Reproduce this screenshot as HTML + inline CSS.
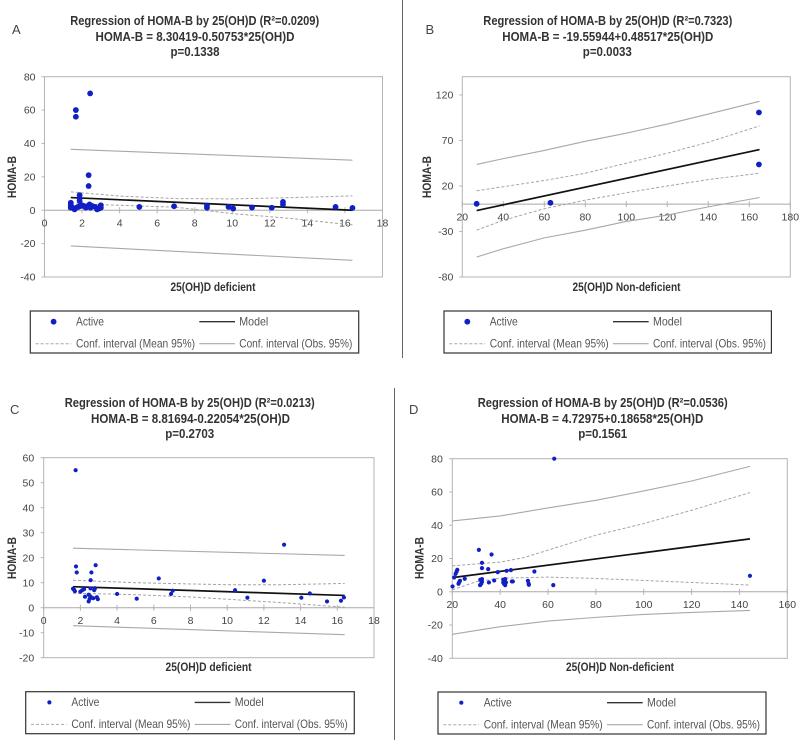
<!DOCTYPE html>
<html lang="en">
<head>
<meta charset="utf-8">
<title>Regression of HOMA-B by 25(OH)D</title>
<style>
html,body{margin:0;padding:0;background:#fff;width:800px;height:740px;overflow:hidden}
svg{display:block;filter:blur(.3px)}
text{font-family:"Liberation Sans",sans-serif}
.title{font-size:13px;font-weight:bold;fill:#333;text-anchor:middle}
.axt{font-size:11.5px;font-weight:bold;fill:#333;text-anchor:middle}
.letter{font-size:13px;fill:#444}
.leg{font-size:12px;fill:#555}
.tick{font-size:10.5px;fill:#444}
</style>
</head>
<body>
<svg id="root" xmlns="http://www.w3.org/2000/svg" width="800" height="740" viewBox="0 0 800 740">
<rect width="800" height="740" fill="#fff"/>
<line x1="402.5" y1="0" x2="402.5" y2="358" stroke="#666" stroke-width="1"/>
<line x1="394.5" y1="388" x2="394.5" y2="740" stroke="#666" stroke-width="1"/>

<g id="panel-a">
<text class="letter" x="12" y="34">A</text>
<text class="title" x="194.7" y="25" textLength="249" lengthAdjust="spacingAndGlyphs">Regression of HOMA-B by 25(OH)D (R²=0.0209)</text>
<text class="title" x="195" y="41" textLength="199" lengthAdjust="spacingAndGlyphs">HOMA-B = 8.30419-0.50753*25(OH)D</text>
<text class="title" x="195" y="56" textLength="49" lengthAdjust="spacingAndGlyphs">p=0.1338</text>
<text class="axt" x="213" y="291" textLength="85" lengthAdjust="spacingAndGlyphs">25(OH)D deficient</text>
<text class="axt" transform="translate(16,177) rotate(-90)" textLength="42" lengthAdjust="spacingAndGlyphs">HOMA-B</text>
<g transform="translate(30.3,311)">
<rect x="0" y="0" width="328.4" height="42" fill="#fff" stroke="#333" stroke-width="1.2"/>
<circle cx="23.3" cy="10.7" r="2.9" fill="#1020c4"/>
<text class="leg" x="45.7" y="14.5" textLength="28" lengthAdjust="spacingAndGlyphs">Active</text>
<line x1="169" y1="10.7" x2="204.7" y2="10.7" stroke="#333" stroke-width="1.4"/>
<text class="leg" x="209" y="14.5" textLength="29" lengthAdjust="spacingAndGlyphs">Model</text>
<line x1="5.3" y1="32.7" x2="41" y2="32.7" stroke="#a8a8a8" stroke-width="1" stroke-dasharray="3 2"/>
<text class="leg" x="45.7" y="36.5" textLength="119" lengthAdjust="spacingAndGlyphs">Conf. interval (Mean 95%)</text>
<line x1="169" y1="32.7" x2="204.7" y2="32.7" stroke="#a8a8a8" stroke-width="1.1"/>
<text class="leg" x="209" y="36.5" textLength="113" lengthAdjust="spacingAndGlyphs">Conf. interval (Obs. 95%)</text>
</g>
</g>

<g id="panel-b">
<text class="letter" x="425.5" y="34">B</text>
<text class="title" x="607.8" y="25" textLength="249" lengthAdjust="spacingAndGlyphs">Regression of HOMA-B by 25(OH)D (R²=0.7323)</text>
<text class="title" x="607.8" y="41" textLength="211" lengthAdjust="spacingAndGlyphs">HOMA-B = -19.55944+0.48517*25(OH)D</text>
<text class="title" x="607.3" y="56" textLength="49" lengthAdjust="spacingAndGlyphs">p=0.0033</text>
<text class="axt" x="626.5" y="291" textLength="108" lengthAdjust="spacingAndGlyphs">25(OH)D Non-deficient</text>
<text class="axt" transform="translate(431,177) rotate(-90)" textLength="42" lengthAdjust="spacingAndGlyphs">HOMA-B</text>
<g transform="translate(444,311)">
<rect x="0" y="0" width="327.4" height="42" fill="#fff" stroke="#333" stroke-width="1.2"/>
<circle cx="23.3" cy="10.7" r="2.9" fill="#1020c4"/>
<text class="leg" x="45.7" y="14.5" textLength="28" lengthAdjust="spacingAndGlyphs">Active</text>
<line x1="169" y1="10.7" x2="204.7" y2="10.7" stroke="#333" stroke-width="1.4"/>
<text class="leg" x="209" y="14.5" textLength="29" lengthAdjust="spacingAndGlyphs">Model</text>
<line x1="5.3" y1="32.7" x2="41" y2="32.7" stroke="#a8a8a8" stroke-width="1" stroke-dasharray="3 2"/>
<text class="leg" x="45.7" y="36.5" textLength="119" lengthAdjust="spacingAndGlyphs">Conf. interval (Mean 95%)</text>
<line x1="169" y1="32.7" x2="204.7" y2="32.7" stroke="#a8a8a8" stroke-width="1.1"/>
<text class="leg" x="209" y="36.5" textLength="113" lengthAdjust="spacingAndGlyphs">Conf. interval (Obs. 95%)</text>
</g>
</g>

<g id="panel-c">
<text class="letter" x="10" y="414">C</text>
<text class="title" x="189.7" y="407" textLength="250" lengthAdjust="spacingAndGlyphs">Regression of HOMA-B by 25(OH)D (R²=0.0213)</text>
<text class="title" x="190.5" y="423" textLength="199" lengthAdjust="spacingAndGlyphs">HOMA-B = 8.81694-0.22054*25(OH)D</text>
<text class="title" x="189.7" y="438" textLength="49" lengthAdjust="spacingAndGlyphs">p=0.2703</text>
<text class="axt" x="208.5" y="671" textLength="86" lengthAdjust="spacingAndGlyphs">25(OH)D deficient</text>
<text class="axt" transform="translate(16,558) rotate(-90)" textLength="42" lengthAdjust="spacingAndGlyphs">HOMA-B</text>
<g transform="translate(25.7,691.7)">
<rect x="0" y="0" width="328.6" height="42" fill="#fff" stroke="#333" stroke-width="1.2"/>
<circle cx="23.7" cy="10.7" r="2.1" fill="#1020c4"/>
<text class="leg" x="45.7" y="14.5" textLength="28" lengthAdjust="spacingAndGlyphs">Active</text>
<line x1="169" y1="10.7" x2="204.7" y2="10.7" stroke="#333" stroke-width="1.4"/>
<text class="leg" x="209" y="14.5" textLength="29" lengthAdjust="spacingAndGlyphs">Model</text>
<line x1="5.3" y1="32.7" x2="41" y2="32.7" stroke="#a8a8a8" stroke-width="1" stroke-dasharray="3 2"/>
<text class="leg" x="45.7" y="36.5" textLength="119" lengthAdjust="spacingAndGlyphs">Conf. interval (Mean 95%)</text>
<line x1="169" y1="32.7" x2="204.7" y2="32.7" stroke="#a8a8a8" stroke-width="1.1"/>
<text class="leg" x="209" y="36.5" textLength="113" lengthAdjust="spacingAndGlyphs">Conf. interval (Obs. 95%)</text>
</g>
</g>

<g id="panel-d">
<text class="letter" x="409" y="414">D</text>
<text class="title" x="602.7" y="407" textLength="250" lengthAdjust="spacingAndGlyphs">Regression of HOMA-B by 25(OH)D (R²=0.0536)</text>
<text class="title" x="602.3" y="423" textLength="202" lengthAdjust="spacingAndGlyphs">HOMA-B = 4.72975+0.18658*25(OH)D</text>
<text class="title" x="602.7" y="438" textLength="49" lengthAdjust="spacingAndGlyphs">p=0.1561</text>
<text class="axt" x="620" y="671" textLength="108" lengthAdjust="spacingAndGlyphs">25(OH)D Non-deficient</text>
<text class="axt" transform="translate(423.7,558) rotate(-90)" textLength="42" lengthAdjust="spacingAndGlyphs">HOMA-B</text>
<g transform="translate(438,692)">
<rect x="0" y="0" width="328" height="42" fill="#fff" stroke="#333" stroke-width="1.2"/>
<circle cx="23.3" cy="10.7" r="2.1" fill="#1020c4"/>
<text class="leg" x="45.7" y="14.5" textLength="28" lengthAdjust="spacingAndGlyphs">Active</text>
<line x1="169" y1="10.7" x2="204.7" y2="10.7" stroke="#333" stroke-width="1.4"/>
<text class="leg" x="209" y="14.5" textLength="29" lengthAdjust="spacingAndGlyphs">Model</text>
<line x1="5.3" y1="32.7" x2="41" y2="32.7" stroke="#a8a8a8" stroke-width="1" stroke-dasharray="3 2"/>
<text class="leg" x="45.7" y="36.5" textLength="119" lengthAdjust="spacingAndGlyphs">Conf. interval (Mean 95%)</text>
<line x1="169" y1="32.7" x2="204.7" y2="32.7" stroke="#a8a8a8" stroke-width="1.1"/>
<text class="leg" x="209" y="36.5" textLength="113" lengthAdjust="spacingAndGlyphs">Conf. interval (Obs. 95%)</text>
</g>
</g>
</svg>

<script>
/* Panel A data */
const aXTicks = [0,2,4,6,8,10,12,14,16,18];
const aYTicks = [-40,-20,0,20,40,60,80];
const aPointX = [2.43,1.67,1.67,2.35,2.35,1.87,1.87,1.87,1.4,1.4,1.4,1.4,1.5,1.6,1.7,1.8,1.9,2.0,2.1,2.2,2.3,2.4,2.45,2.55,2.7,2.8,2.9,3.0,3.0,5.05,6.9,8.65,8.65,9.8,10.05,11.05,12.1,12.7,12.7,15.5,16.4];
const aPointY = [70,60,56,21,14.5,9,7,5.5,4.5,3,2,1.5,1.5,0.5,1.5,2,2.5,3,2.5,1.5,2.5,3.5,1.5,2.5,2,0.5,1,3,1.5,2,2.4,2.8,1.5,2,1,1.6,1.5,5,3.5,2,1.4];
const aModelX = [1.4,16.4];
const aModelY = [7.6,0];
const aMeanX = [1.4,4,7,10,13,16.4];
const aMeanUpper = [11,8.5,7,6.8,7.5,8.6];
const aMeanLower = [3.8,3,1.8,-2,-4.8,-8.8];
const aObsX = [1.4,16.4];
const aObsUpper = [36.5,30];
const aObsLower = [-21.4,-30];

/* Panel B data */
const bXTicks = [20,40,60,80,100,120,140,160,180];
const bYTicks = [-80,-30,20,70,120];
const bPointX = [27,63,164.7,164.7];
const bPointY = [0.4,1.5,100.7,43.6];
const bModelX = [27,165];
const bModelY = [-7,60];
const bMeanX = [27,60,80,100,120,140,165];
const bMeanUpper = [14.7,26,34,45,56,68,86];
const bLowerX = [27,40,60,80,100,120,140,165];
const bMeanLower = [-28.6,-17.6,-5,4.4,12.5,20,27,34];
const bObsX = [27,40,60,80,100,120,140,165];
const bObsUpper = [43.6,50,59,69,78,88,99,113];
const bObsLower = [-58,-49,-37,-28.6,-19,-12,-3,7.3];

/* Panel C data */
const cXTicks = [0,2,4,6,8,10,12,14,16,18];
const cYTicks = [-20,-10,0,10,20,30,40,50,60];
const cPointX = [1.74,13.1,1.76,1.8,2.83,2.6,2.56,6.27,12,10.43,7.03,6.94,4,5.07,11.1,14.04,14.5,15.44,16.2,16.36,1.6,1.65,1.7,2.0,2.1,2.2,2.25,2.45,2.45,2.5,2.55,2.55,2.7,2.75,2.8,2.9,2.95];
const cPointY = [55,25.2,16.5,14.1,17,14.1,11,11.7,10.8,7,6.8,5.5,5.5,3.6,4,4,5.7,2.5,2.8,4.1,7.6,7.2,6.6,6.4,7,7.4,4.4,5.2,2.5,3.5,4.5,7.7,3.8,7,7.8,4.2,3.4];
const cModelX = [1.6,16.4];
const cModelY = [8.4,4.9];
const cMeanX = [1.6,5,8,10,13,16.4];
const cMeanUpper = [11,10,9.5,9.2,9.2,9.7];
const cMeanLower = [5.8,5.2,4.3,3.4,2,0.2];
const cObsX = [1.6,16.4];
const cObsUpper = [23.8,20.9];
const cObsLower = [-7.2,-10.8];

/* Panel D data */
const dXTicks = [20,40,60,80,100,120,140,160];
const dYTicks = [-40,-20,0,20,40,60,80];
const dPointX = [62.6,144.4,31.1,36.4,32.4,32.4,35,42.7,44.5,39,54.3,22.1,21.8,21.4,20.8,20.1,22.6,23.2,22.9,25.2,31.7,32.4,32.4,32.1,31.6,35.3,37.5,41.3,42.1,41.3,41.6,42.1,42.4,44.9,45.3,51.6,51.9,52,62.2];
const dPointY = [80,9.6,25.2,22.4,17.4,14.2,13.6,12.6,13,11.8,12.2,13.2,12.2,10.8,8.6,3.2,4.8,6.6,5.8,7.8,7.2,7.6,6,4.8,4,5.6,6.8,7.2,7.6,5.6,4.8,4,5.6,6.2,6.2,6.6,4.8,4.2,4];
const dModelX = [20,144.4];
const dModelY = [8.5,31.8];
const dMeanUpperX = [20,40,50,60,80,100,120,144.4];
const dMeanUpper = [15.6,17.8,20.6,25,34,41,49,59.6];
const dMeanLowerX = [20,30,40,60,80,100,120,144.4];
const dMeanLower = [1.2,6,8.2,8.8,8,6.8,5.6,4];
const dObsX = [20,40,60,80,100,120,144.4];
const dObsUpper = [42.6,45.6,50.4,55,60.6,66.6,75.4];
const dObsLower = [-25.6,-21,-17.6,-15.4,-13.6,-12.4,-11.2];

const SVG_NS = 'http://www.w3.org/2000/svg';

function make(parent, tag, props, name) {
  const el = document.createElementNS(SVG_NS, tag);
  Object.keys(props).forEach(function (k) { el.setAttribute(k, props[k]); });
  
  
  parent.appendChild(el);
  return el;
}

function drawPanel(p) {
  const root = document.getElementById('panel-' + p.id);
  const xMin = p.xTicks[0], xMax = p.xTicks[p.xTicks.length - 1];
  const yMin = p.yTicks[0];
  const sx = function (v) { return p.left + (v - xMin) / (xMax - xMin) * (p.right - p.left); };
  const sy = function (v) { return p.bottom - (v - yMin) / (p.yMax - yMin) * (p.bottom - p.top); };
  const axisColor = '#b4b4b4';

  make(root, 'rect', {x: p.left, y: p.top, width: p.right - p.left, height: p.bottom - p.top, fill: 'none', stroke: axisColor, 'stroke-width': 1}, 'plot-area-' + p.id);
  make(root, 'line', {x1: p.left, x2: p.right, y1: sy(0), y2: sy(0), stroke: '#a8a8a8', 'stroke-width': 1}, 'x-axis-' + p.id);

  p.yTicks.forEach(function (t) {
    make(root, 'line', {x1: p.left - 3, x2: p.left, y1: sy(t), y2: sy(t), stroke: axisColor, 'stroke-width': 1}, 'y-tick-' + p.id);
    const lab = make(root, 'text', {class: 'tick', x: p.left - p.labelGap, y: sy(t) + 3.6, 'text-anchor': 'end'}, 'y-tick-label-' + p.id);
    lab.textContent = t;
  });
  p.xTicks.forEach(function (t) {
    make(root, 'line', {x1: sx(t), x2: sx(t), y1: sy(0) - 3, y2: sy(0) + 3, stroke: axisColor, 'stroke-width': 1}, 'x-tick-' + p.id);
    const lab = make(root, 'text', {class: 'tick', x: sx(t), y: sy(0) + 16.2, 'text-anchor': 'middle'}, 'x-tick-label-' + p.id);
    lab.textContent = t;
  });

  function series(xs, ys, style, name) {
    const pts = xs.map(function (x, i) { return sx(x).toFixed(2) + ',' + sy(ys[i]).toFixed(2); }).join(' ');
    const props = Object.assign({points: pts, fill: 'none'}, style);
    make(root, 'polyline', props, name + '-' + p.id);
  }
  const obs = {stroke: '#a8a8a8', 'stroke-width': 1.1};
  const mean = {stroke: '#a4a4a4', 'stroke-width': 1, 'stroke-dasharray': '3 2'};
  series(p.obsX, p.obsUpper, obs, 'obs-ci-upper');
  series(p.obsX, p.obsLower, obs, 'obs-ci-lower');
  series(p.meanUpperX, p.meanUpper, mean, 'mean-ci-upper');
  series(p.meanLowerX, p.meanLower, mean, 'mean-ci-lower');
  series(p.modelX, p.modelY, {stroke: '#111', 'stroke-width': 1.7}, 'model-line');

  p.pointX.forEach(function (x, i) {
    make(root, 'circle', {cx: sx(x).toFixed(2), cy: sy(p.pointY[i]).toFixed(2), r: p.radius, fill: '#1020c4'}, 'active-point-' + p.id);
  });
}

drawPanel({id: 'a', left: 44.5, right: 382.5, top: 76.7, bottom: 277, yMax: 80, labelGap: 9, radius: 2.9,
  xTicks: aXTicks, yTicks: aYTicks, pointX: aPointX, pointY: aPointY, modelX: aModelX, modelY: aModelY,
  meanUpperX: aMeanX, meanLowerX: aMeanX, meanUpper: aMeanUpper, meanLower: aMeanLower,
  obsX: aObsX, obsUpper: aObsUpper, obsLower: aObsLower});
drawPanel({id: 'b', left: 462.3, right: 790.3, top: 76.7, bottom: 277, yMax: 140, labelGap: 9, radius: 2.9,
  xTicks: bXTicks, yTicks: bYTicks, pointX: bPointX, pointY: bPointY, modelX: bModelX, modelY: bModelY,
  meanUpperX: bMeanX, meanLowerX: bLowerX, meanUpper: bMeanUpper, meanLower: bMeanLower,
  obsX: bObsX, obsUpper: bObsUpper, obsLower: bObsLower});
drawPanel({id: 'c', left: 43.7, right: 374, top: 457.7, bottom: 657.7, yMax: 60, labelGap: 9.5, radius: 2.1,
  xTicks: cXTicks, yTicks: cYTicks, pointX: cPointX, pointY: cPointY, modelX: cModelX, modelY: cModelY,
  meanUpperX: cMeanX, meanLowerX: cMeanX, meanUpper: cMeanUpper, meanLower: cMeanLower,
  obsX: cObsX, obsUpper: cObsUpper, obsLower: cObsLower});
drawPanel({id: 'd', left: 452.3, right: 787.3, top: 458.7, bottom: 658.3, yMax: 80, labelGap: 9.5, radius: 2.1,
  xTicks: dXTicks, yTicks: dYTicks, pointX: dPointX, pointY: dPointY, modelX: dModelX, modelY: dModelY,
  meanUpperX: dMeanUpperX, meanLowerX: dMeanLowerX, meanUpper: dMeanUpper, meanLower: dMeanLower,
  obsX: dObsX, obsUpper: dObsUpper, obsLower: dObsLower});
</script>
</body>
</html>
